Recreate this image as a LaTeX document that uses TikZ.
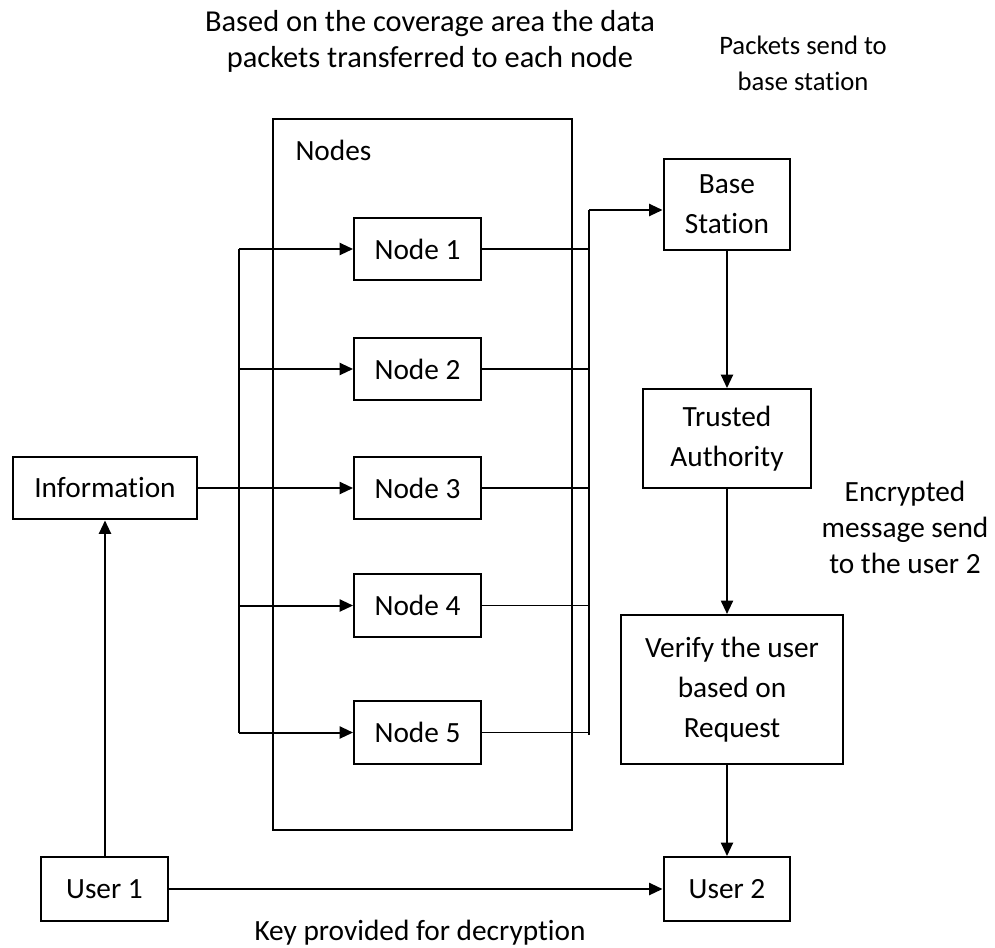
\documentclass[tikz,border=0pt]{standalone}
\usepackage{fontspec}
\setmainfont{Carlito}[Ligatures=NoCommon]
\usetikzlibrary{arrows.meta,positioning}

\begin{document}
\begin{tikzpicture}[x=0.375pt,y=-0.375pt,
    box/.style={draw,line width=0.75pt,inner sep=0pt,align=center,
      font=\fontsize{11}{15}\selectfont},
    arr/.style={line width=0.75pt,-{Triangle[length=5pt,width=4.5pt]}},
    wire/.style={line width=0.6pt},
    note/.style={align=center,font=\fontsize{11}{13.5}\selectfont}]
  \useasboundingbox (0,0) rectangle (995,947);
  \node[box,minimum width=112.1pt,minimum height=266.6pt] (grp) at (422.5,474.5) {};
  \node[anchor=west,inner sep=0pt,font=\fontsize{11}{15}\selectfont] (grplabel) at (295,150) {Nodes};
  \foreach \i/\y in {1/249,2/369,3/488,4/605.5,5/732.5} {
    \node[box,minimum width=47.6pt,minimum height=23.6pt] (n\i) at (417.5,\y) {Node \i};
  }
  \node[box,minimum width=69pt,minimum height=23.6pt] (info) at (105,488) {Information};
  \node[box,minimum width=47.6pt,minimum height=34.1pt] (base) at (727,204.5) {Base\\Station};
  \node[box,minimum width=63pt,minimum height=37.1pt] (trust) at (727,438.5) {Trusted\\Authority};
  \node[box,minimum width=83.25pt,minimum height=55.9pt] (verify) at (732,689.5) {Verify the user\\based on\\Request};
  \node[box,minimum width=47.6pt,minimum height=24pt] (user1) at (104.5,889) {User 1};
  \node[box,minimum width=47.6pt,minimum height=24pt] (user2) at (727,889) {User 2};

  \node[note,font=\fontsize{11.4}{13.5}\selectfont] (toptext) at (430,41) {Based on the coverage area the data\\packets transferred to each node};
  \node[note,font=\fontsize{10}{13.5}\selectfont] (pkttext) at (803,63) {Packets send to\\base station};
  \node[note] (enctext) at (905,527) {Encrypted\\message send\\to the user 2};
  \node[note] (keytext) at (420,933) {Key provided for decryption};

  \coordinate (ltop) at (239,249);
  \coordinate (rtop) at (589,210);
  \draw[line width=0.75pt] (n1.west -| ltop) -- (n5.west -| ltop);
  \foreach \i in {1,2,4,5} {
    \draw[arr] (n\i.west -| ltop) -- (n\i.west);
  }
  \draw[arr] (info.east) -- (n3.west);
  \foreach \i in {1,...,5} {
    \draw[wire] (n\i.east) -- (n\i.east -| rtop);
  }
  \draw[line width=0.75pt] ([yshift=-1pt]n5.east -| rtop) -- (rtop);
  \draw[arr] (rtop) -- (rtop -| base.west);
  \draw[arr] (base) -- (trust);
  \draw[arr] (trust.south) -- (trust.south |- verify.north);
  \draw[arr] (trust.south |- verify.south) -- (user2.north);
  \draw[arr] (user1.north -| info.south) -- (info.south);
  \draw[arr] (user1.east) -- (user2.west);
\end{tikzpicture}
\end{document}
